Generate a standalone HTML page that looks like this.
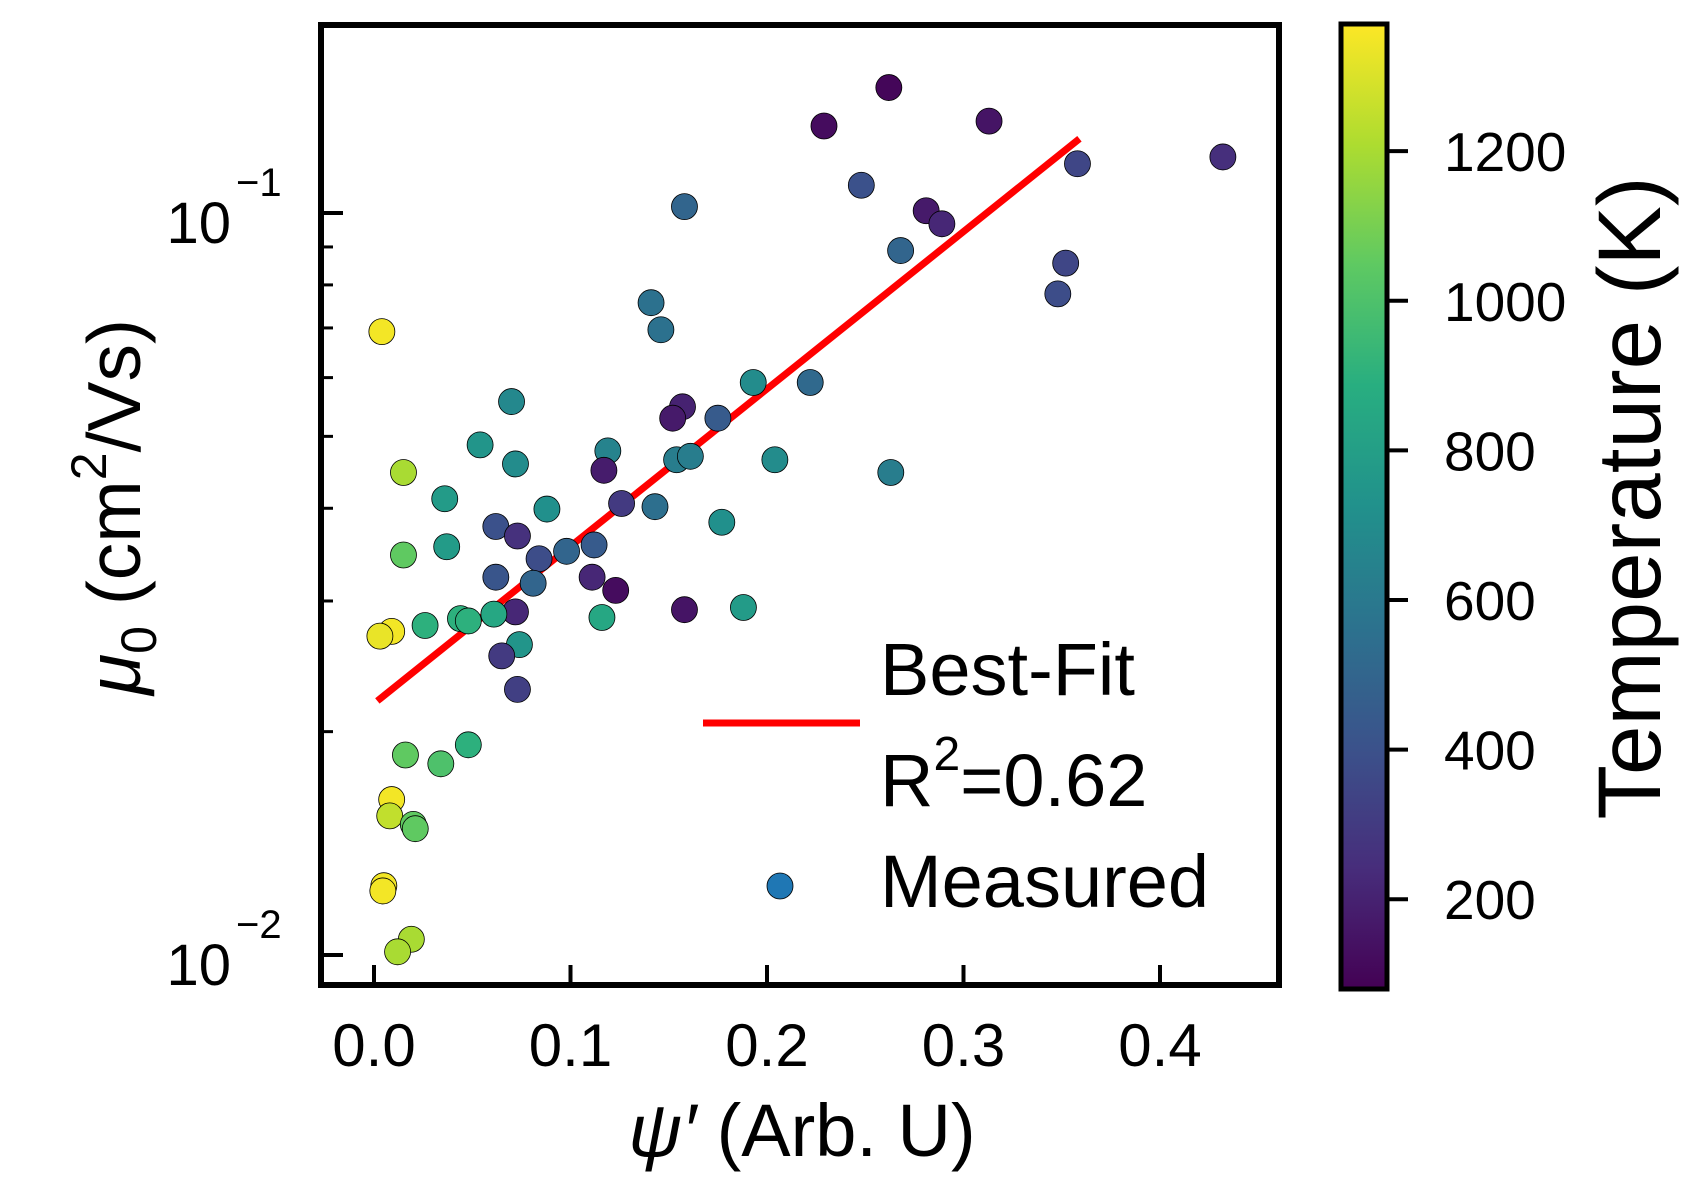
<!DOCTYPE html>
<html><head><meta charset="utf-8"><style>
html,body{margin:0;padding:0;background:#fff}
svg{display:block;font-family:"Liberation Sans",Arial,sans-serif}
</style></head><body>
<svg id="chart" width="1704" height="1187" viewBox="0 0 1704 1187" xmlns="http://www.w3.org/2000/svg">
<defs>
<linearGradient id="viridis" x1="0" y1="1" x2="0" y2="0">
<stop offset="0" stop-color="#440154"/><stop offset="0.125" stop-color="#472d7b"/><stop offset="0.25" stop-color="#3b528b"/><stop offset="0.375" stop-color="#2c728e"/><stop offset="0.5" stop-color="#21918c"/><stop offset="0.625" stop-color="#28ae80"/><stop offset="0.75" stop-color="#5ec962"/><stop offset="0.875" stop-color="#addc30"/><stop offset="1" stop-color="#fde725"/>
</linearGradient>
<clipPath id="plotclip"><rect x="321" y="25" width="958" height="960"/></clipPath>
</defs>
<g id="marks" clip-path="url(#plotclip)"></g>
<g id="axes"></g>
</svg>
<script>
const xVals=[0.262,0.229,0.313,0.432,0.358,0.248,0.158,0.281,0.289,0.268,0.352,0.348,0.141,0.146,0.004,0.193,0.222,0.070,0.157,0.152,0.175,0.054,0.119,0.154,0.161,0.204,0.072,0.117,0.015,0.263,0.036,0.126,0.143,0.088,0.177,0.062,0.073,0.037,0.112,0.098,0.015,0.084,0.062,0.111,0.081,0.123,0.158,0.188,0.072,0.061,0.116,0.044,0.048,0.026,0.009,0.003,0.074,0.065,0.073,0.048,0.016,0.034,0.009,0.008,0.020,0.021,0.005,0.0045,0.019,0.012];
const yVals=[0.1476,0.131,0.133,0.119,0.1165,0.109,0.102,0.1007,0.0967,0.089,0.0856,0.0778,0.0757,0.0696,0.0692,0.0591,0.0591,0.0557,0.0548,0.0529,0.0529,0.0487,0.0478,0.0465,0.047,0.0465,0.0459,0.045,0.0447,0.0447,0.0412,0.0406,0.0402,0.0399,0.0383,0.0378,0.0367,0.0355,0.0357,0.035,0.0346,0.0342,0.0323,0.0323,0.0317,0.031,0.0292,0.0294,0.029,0.0288,0.0285,0.0284,0.0282,0.0278,0.0273,0.0269,0.0262,0.0253,0.0228,0.0192,0.0186,0.0181,0.0162,0.0154,0.015,0.0148,0.0124,0.0122,0.0105,0.0101];
const tVals=[100,120,150,250,350,400,500,170,220,500,350,380,560,560,1350,700,520,680,200,170,450,750,650,620,620,700,700,180,1200,620,780,300,550,720,720,400,260,780,450,500,1050,380,420,220,500,120,150,780,220,850,850,900,900,900,1350,1330,750,300,320,900,1050,1000,1350,1250,1050,1050,1350,1350,1200,1200];
const fitX=[0.0017,0.359];
const fitY=[0.0220,0.1259];
const xTicks=[0.0,0.1,0.2,0.3,0.4];
const xTickLabels=["0.0","0.1","0.2","0.3","0.4"];
const cTicks=[200,400,600,800,1000,1200];
const tMin=80, tMax=1370;

const X=v=>374+v*1965;
const Y=v=>955-(Math.log10(v)+2)*742;
const C=t=>989-(t-tMin)*(965/(tMax-tMin));
const stops=["#440154","#472d7b","#3b528b","#2c728e","#21918c","#28ae80","#5ec962","#addc30","#fde725"];
function hex(h){return [1,3,5].map(i=>parseInt(h.substr(i,2),16));}
function cmap(t){let f=Math.max(0,Math.min(1,(t-tMin)/(tMax-tMin)))*8;let i=Math.min(7,Math.floor(f));let a=hex(stops[i]),b=hex(stops[i+1]),r=f-i;
return "rgb("+a.map((v,k)=>Math.round(v+(b[k]-v)*r)).join(",")+")";}
const NS="http://www.w3.org/2000/svg";
function mk(tag,attrs,parent,text){const e=document.createElementNS(NS,tag);for(const k in attrs)e.setAttribute(k,attrs[k]);if(text!==undefined)e.textContent=text;parent.appendChild(e);return e;}
const marks=document.getElementById('marks'),axes=document.getElementById('axes');

const fit=mk('line',{x1:X(fitX[0]),y1:Y(fitY[0]),x2:X(fitX[1]),y2:Y(fitY[1]),stroke:"#ff0000","stroke-width":7},marks);


for(let i=0;i<xVals.length;i++){
 const c=mk('circle',{cx:X(xVals[i]),cy:Y(yVals[i]),r:13,fill:cmap(tVals[i]),stroke:"#000","stroke-width":0.8},marks);
 
 
}
const fr=mk('rect',{x:321,y:25,width:958,height:960,fill:"none",stroke:"#000","stroke-width":6},axes);


xTicks.forEach((v,i)=>{
 const t=mk('line',{x1:X(v),x2:X(v),y1:985,y2:965,stroke:"#000","stroke-width":4},axes);
 
 
 const l=mk('text',{x:X(v),y:1066,"font-size":60,"text-anchor":"middle"},axes,xTickLabels[i]);
 
 
});
for(let d=-2;d<=-1;d++){for(let m=1;m<10;m++){const v=m*Math.pow(10,d);const y=Y(v);if(y<28||y>982)continue;
 const t=mk('line',{x1:321,x2:m===1?343:333,y1:y,y2:y,stroke:"#000","stroke-width":m===1?4:3},axes);
 
 
}}
[-1,-2].forEach(e=>{const y=Y(Math.pow(10,e));
 const l=mk('text',{x:231,y:y+30,"font-size":58,"text-anchor":"end"},axes,"10");
 
 
 const s=mk('text',{x:236,y:y-17,"font-size":40},axes,"\u2212"+(-e));
 
 
});
const cb=mk('rect',{x:1341,y:24,width:46,height:965,fill:"url(#viridis)",stroke:"#000","stroke-width":5},axes);


cTicks.forEach(v=>{const y=C(v);
 const t=mk('line',{x1:1389,x2:1408,y1:y,y2:y,stroke:"#000","stroke-width":4},axes);
 
 
 const l=mk('text',{x:1444,y:y+20,"font-size":55},axes,String(v));
 
 
});
</script>
<svg style="position:absolute;left:0;top:0" width="1704" height="1187">
<text x="802" y="1156" font-size="74" text-anchor="middle" font-family="Liberation Sans, sans-serif"><tspan font-style="italic">ψ′</tspan> (Arb. U)</text>
<text transform="translate(140,507) rotate(-90)" font-size="75" text-anchor="middle" font-family="Liberation Sans, sans-serif"><tspan font-style="italic">μ</tspan><tspan font-size="50" dy="16">0</tspan><tspan dy="-16"> (cm</tspan><tspan font-size="50" dy="-34">2</tspan><tspan dy="34">/Vs)</tspan></text>
<text transform="translate(1660,498) rotate(-90)" font-size="89" text-anchor="middle" font-family="Liberation Sans, sans-serif">Temperature (K)</text>
<g font-family="Liberation Sans, sans-serif" font-size="74">
<line x1="703" y1="723" x2="860" y2="723" stroke="#ff0000" stroke-width="7"/>
<text x="880" y="695">Best-Fit</text>
<text x="880" y="806">R<tspan font-size="48" dy="-36">2</tspan><tspan dy="36">=0.62</tspan></text>
<circle cx="780" cy="886" r="13" fill="#1f77b4" stroke="#000" stroke-width="0.8"/>
<text x="880" y="907">Measured</text>
</g>
</svg>
</body></html>
